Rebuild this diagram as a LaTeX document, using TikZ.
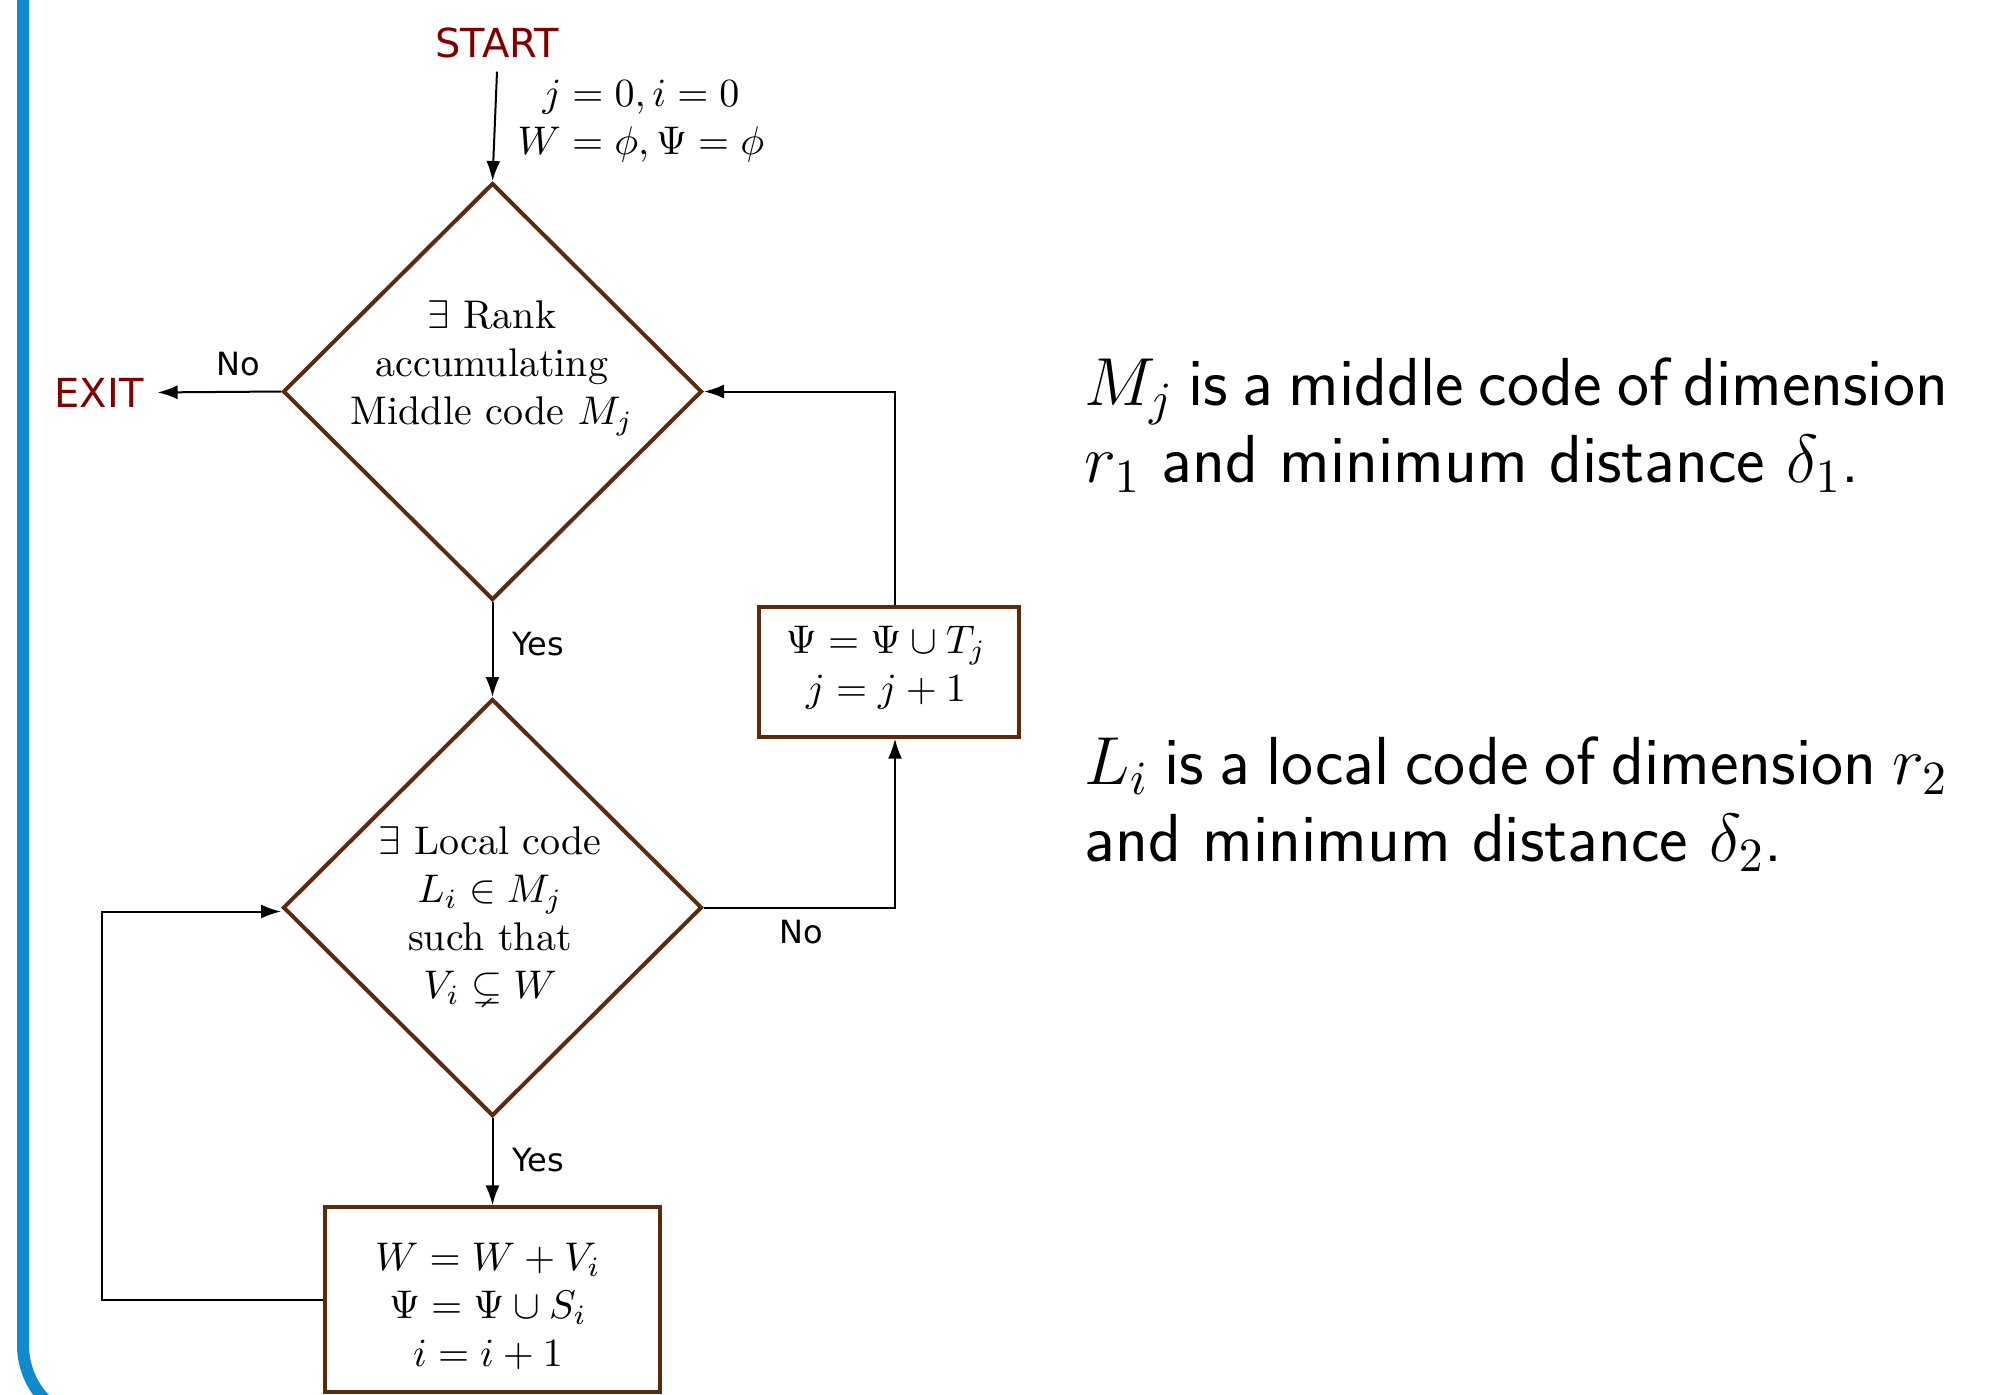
\RequirePackage{fix-cm}
\documentclass[tikz,border=0pt]{standalone}
\usepackage{amssymb}
\usepackage{fontspec}
\newfontfamily\dejavu{DejaVu Sans}
\usetikzlibrary{shapes.geometric,arrows.meta}

\definecolor{framebar}{RGB}{16,137,205}
\definecolor{shapeline}{RGB}{92,42,12}
\definecolor{termred}{RGB}{128,0,0}

\tikzset{
  decision/.style={diamond, draw=shapeline, line width=1pt, inner sep=0pt,
                   minimum width=104.75pt, minimum height=104.25pt},
  process/.style={rectangle, draw=shapeline, line width=0.85pt, inner sep=0pt},
  mtext/.style={align=center, font=\fontsize{10}{12}\selectfont, inner sep=0pt},
  terminal/.style={font=\dejavu\fontsize{10}{12}\selectfont, text=termred},
  edgelabel/.style={font=\dejavu\fontsize{8}{9.5}\selectfont, inner sep=0pt},
  conn/.style={line width=0.5pt, -{Latex[length=5pt,width=3.5pt]}},
  note/.style={font=\sffamily\fontsize{17}{19.25}\selectfont, align=justify,
               text width=215.8pt, inner sep=0pt},
}

\begin{document}
\begin{tikzpicture}[x=0.25pt, y=-0.25pt]
  \useasboundingbox (0,0) rectangle (2011,1394);
  \clip (0,0) rectangle (2011,1394);

  % block frame edge on the left
  \draw[framebar, line width=3pt] (23,-20) -- (23,1345)
        arc[start angle=180, end angle=270, radius=19.75pt] -- ++(400,0);

  % terminals
  \node[terminal, anchor=base] (start) at (497,57) {START};
  \node[terminal, anchor=base] (exit) at (99,407) {EXIT};

  % decisions
  \node[decision] (d1) at (492.5,391.5) {};
  \node[mtext] (d1text) at (492,368) {$\exists$ Rank\\accumulating\\Middle code $M_j$};
  \node[decision] (d2) at (492.5,907.5) {};
  \node[mtext] (d2text) at (490,916) {$\exists$ Local code\\$L_i\in M_j$\\such that\\$V_i\subsetneq W$};

  % processes
  \node[process, minimum width=65pt, minimum height=32.5pt] (b1) at (889,672) {};
  \node[mtext] (b1text) at (886,668) {$\Psi=\Psi\cup T_j$\\$j=j+1$};
  \node[process, minimum width=83.75pt, minimum height=46.25pt] (b2) at (492.5,1299.5) {};
  \node[mtext] (b2text) at (488,1306) {$W=W+V_i$\\$\Psi=\Psi\cup S_i$\\$i=i+1$};

  % initial values
  \node[mtext] (init) at (641,121) {$j=0,i=0$\\$W=\phi,\Psi=\phi$};

  % connectors
  \draw[conn] (start.south) -- (d1.north);
  \draw[conn] (d1.west) -- (exit.east);
  \draw[conn] (d1.south) -- (d2.north);
  \draw[conn] (d2.east) -| ([xshift=1.5pt]b1.south);
  \draw[conn] ([xshift=1.5pt]b1.north) |- (d1.east);
  \draw[conn] (d2.south) -- (b2.north);
  \draw[conn] (b2.west) -- ++(-221,0) |- ([yshift=-1pt]d2.west);

  % branch labels
  \node[edgelabel, anchor=base] (no1) at (238,375) {No};
  \node[edgelabel, anchor=base] (yes1) at (538,655) {Yes};
  \node[edgelabel, anchor=base] (no2) at (801,943) {No};
  \node[edgelabel, anchor=base] (yes2) at (538,1171) {Yes};

  % notes on the right
  \node[note, anchor=base west] (n1) at (1084,405)
        {$M_j$ is a middle code of dimension\linebreak $r_1$ and minimum distance $\delta_1$.};
  \node[note, anchor=base west] (n2) at (1084,784)
        {$L_i$ is a local code of dimension $r_2$\linebreak and minimum distance $\delta_2$.};
\end{tikzpicture}
\end{document}
